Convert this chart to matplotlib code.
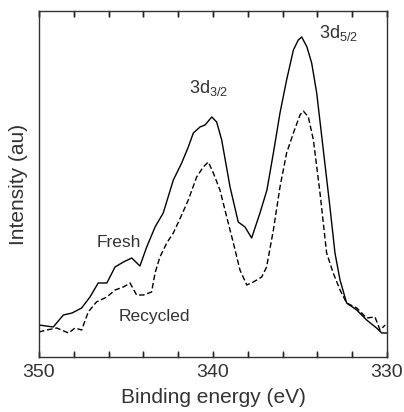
import matplotlib
matplotlib.use("Agg")
import matplotlib.pyplot as plt
import matplotlib.transforms as mtransforms

plt.rcParams['font.family'] = ['Liberation Sans', 'DejaVu Sans']
plt.rcParams['mathtext.fontset'] = 'custom'
plt.rcParams['mathtext.rm'] = 'Liberation Sans'
plt.rcParams['mathtext.it'] = 'Liberation Sans'

# Binding energy (eV) and intensity (arbitrary units)
fresh_E = [350.0, 349.18, 348.6, 348.1, 347.55, 347.07, 346.6, 346.1, 345.63, 345.15,
           344.67, 344.2, 343.81, 343.33, 342.86, 342.28, 341.8, 341.42, 341.13, 340.75,
           340.46, 340.07, 339.79, 339.5, 339.02, 338.55, 338.16, 337.78, 337.3, 336.9,
           336.53, 336.15, 335.77, 335.38, 335.1, 334.9, 334.6, 334.33, 334.04, 333.66,
           333.28, 332.99, 332.7, 332.32, 331.74, 331.17, 330.6, 330.3, 330.0]
fresh_I = [32, 30, 42, 44, 49, 60, 74, 74, 90, 95,
           99, 91, 110, 130, 144, 177, 194, 210, 224, 230,
           232, 240, 235, 217, 170, 135, 130, 119, 144, 167,
           204, 244, 277, 307, 317, 320, 310, 294, 264, 207,
           150, 104, 77, 54, 47, 37, 29, 24, 24]

recycled_E = [350.0, 349.56, 348.98, 348.3, 347.93, 347.55, 347.17, 346.7, 346.1, 345.63,
              345.15, 344.77, 344.39, 344.0, 343.53, 343.33, 343.05, 342.66, 342.28, 341.8,
              341.42, 340.94, 340.56, 340.27, 339.98, 339.6, 339.21, 338.83, 338.45, 338.06,
              337.68, 337.2, 336.92, 336.53, 336.15, 335.77, 335.38, 335.0, 334.81, 334.52,
              334.23, 333.85, 333.47, 333.09, 332.7, 332.32, 331.74, 331.17, 330.69, 330.4, 330.1]
recycled_I = [25, 27, 29, 24, 29, 27, 45, 55, 60, 67,
              70, 74, 62, 62, 65, 84, 100, 114, 124, 142,
              157, 180, 190, 195, 184, 167, 140, 114, 87, 72,
              75, 80, 90, 127, 170, 204, 224, 242, 246, 240,
              217, 164, 104, 84, 67, 54, 49, 39, 40, 27, 32]

major_ticks = [350, 340, 330]
minor_ticks = [348, 346, 344, 342, 338, 336, 334, 332]

fig = plt.figure(figsize=(4.04, 4.12), dpi=100)
ax = fig.add_axes([39/404, 1 - 357/412, 348/404, 346/412])

ax.plot(fresh_E, fresh_I, color='black', lw=1.0)
ax.plot(recycled_E, recycled_I, color='black', lw=1.0, dashes=(4, 2))

ax.set_xlim(350, 330)
ax.set_ylim(0, 346)
ax.set_xticks(major_ticks)
ax.set_xticks(minor_ticks, minor=True)
ax.set_yticks([])
ax.tick_params(axis='x', which='both', direction='in', top=True, bottom=True,
               length=4.5, width=1.0, color='#222222')
ax.tick_params(axis='x', which='major', labelsize=14, labelcolor='#333333', pad=5)

# explicit tick marks (inward, top and bottom)
trans = mtransforms.blended_transform_factory(ax.transData, ax.transAxes)
tlen = 4.5 / 346
for x in major_ticks + minor_ticks:
    ax.plot([x, x], [0, tlen], color='#222222', lw=1.0, transform=trans, clip_on=False)
    ax.plot([x, x], [1 - tlen, 1], color='#222222', lw=1.0, transform=trans, clip_on=False)

for s in ax.spines.values():
    s.set_linewidth(1.0)
    s.set_color('#333333')

ax.set_xlabel('Binding energy (eV)', fontsize=15, color='#333333', labelpad=5)
ax.set_ylabel('Intensity (au)', fontsize=15, color='#333333', labelpad=8)

tc = '#333333'
ax.text(341.4, 269, r'3d$_{3/2}$', fontsize=13, color=tc, ha='left', va='center')
ax.text(333.9, 324, r'3d$_{5/2}$', fontsize=13, color=tc, ha='left', va='center')
ax.text(346.7, 114, 'Fresh', fontsize=12.5, color=tc, ha='left', va='center')
ax.text(345.4, 40, 'Recycled', fontsize=12.5, color=tc, ha='left', va='center')

fig.savefig('out.png', dpi=100)
